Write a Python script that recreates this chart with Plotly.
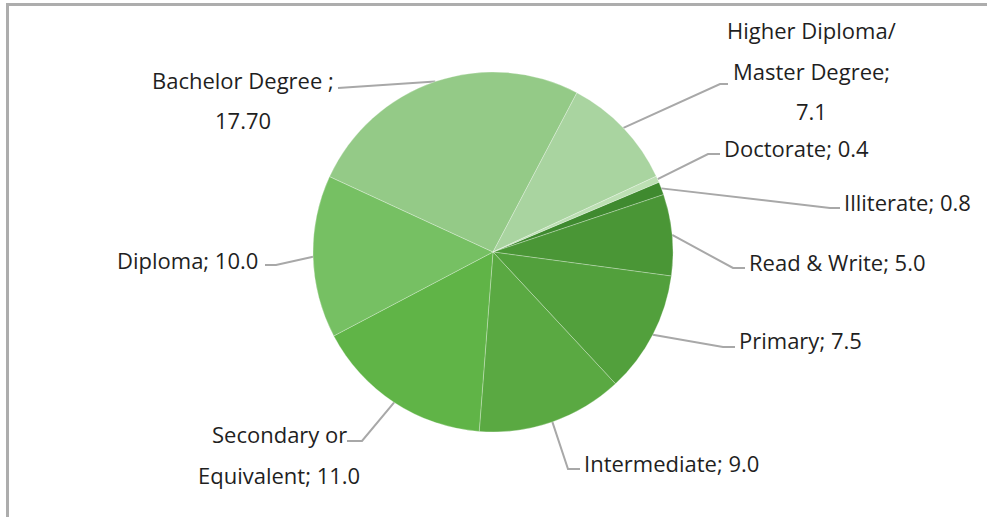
import math
import plotly.graph_objects as go

# Education level shares (%)
categories = ["Illiterate", "Read & Write", "Primary", "Intermediate",
              "Secondary or Equivalent", "Diploma", "Bachelor Degree",
              "Higher Diploma/ Master Degree", "Doctorate"]
values = [0.8, 5.0, 7.5, 9.0, 11.0, 10.0, 17.70, 7.1, 0.4]
value_text = ["0.8", "5.0", "7.5", "9.0", "11.0", "10.0", "17.70", "7.1", "0.4"]
colors = ["#3f8a2f", "#4a9636", "#52a03c", "#5aa942", "#60b447",
          "#76c063", "#94ca87", "#a9d4a0", "#bde0b4"]

# Label text, split into the lines that are drawn
label_lines = [
    [f"Illiterate; {value_text[0]}"],
    [f"Read & Write; {value_text[1]}"],
    [f"Primary; {value_text[2]}"],
    [f"Intermediate; {value_text[3]}"],
    ["Secondary or", f"Equivalent; {value_text[4]}"],
    [f"Diploma; {value_text[5]}"],
    ["Bachelor Degree ;", value_text[6]],
    ["Higher Diploma/", "Master Degree;", value_text[7]],
    [f"Doctorate; {value_text[8]}"],
]

# Canvas and pie geometry (pixels)
W, H = 987, 517
CX, CY, R = 493, 252, 180
ROTATION = 67.2

# Label placement: text x, first-line y, line gap, anchor, leader elbow, leader end
label_layout = [
    dict(x=842, y=202, gap=40, anchor="left",   elbow=(830, 208), end=(840, 208)),
    dict(x=747, y=262, gap=40, anchor="left",   elbow=(733, 268), end=(745, 268)),
    dict(x=737, y=340, gap=40, anchor="left",   elbow=(723, 347), end=(735, 347)),
    dict(x=582, y=463, gap=40, anchor="left",   elbow=(568, 469), end=(580, 469)),
    dict(x=279, y=434, gap=41, anchor="center", elbow=(362, 441), end=(347, 441)),
    dict(x=260, y=260, gap=40, anchor="right",  elbow=(276, 265), end=(265, 265)),
    dict(x=243, y=80,  gap=40, anchor="center", elbow=(338, 88),  end=(338, 88)),
    dict(x=811, y=30,  gap=40.5, anchor="center", elbow=(720, 84), end=(728, 84)),
    dict(x=722, y=148, gap=40, anchor="left",   elbow=(708, 154), end=(720, 154)),
]

FONT = dict(family="Open Sans, Noto Sans, sans-serif", size=22, color="#1f1f1f")
LEADER_COLOR = "#a8a8a8"

fig = go.Figure()

fig.add_trace(go.Pie(
    labels=categories,
    values=values,
    sort=False,
    direction="clockwise",
    rotation=ROTATION,
    marker=dict(colors=colors, line=dict(color="rgba(255,255,255,0.35)", width=0.8)),
    textinfo="none",
    hoverinfo="label+value",
    showlegend=False,
    domain=dict(x=[(CX - R) / W, (CX + R) / W],
                y=[1 - (CY + R) / H, 1 - (CY - R) / H]),
))

total = sum(values)
cum = 0.0
annotations = []
for v, lines, lay in zip(values, label_lines, label_layout):
    ang = math.radians(ROTATION + 360.0 * (cum + v / 2.0) / total)
    cum += v
    sx = CX + R * math.sin(ang)
    sy = CY - R * math.cos(ang)
    ex, ey = lay["elbow"]
    tx, ty = lay["end"]
    fig.add_trace(go.Scatter(
        x=[sx, ex, tx], y=[sy, ey, ty],
        mode="lines",
        line=dict(color=LEADER_COLOR, width=2),
        hoverinfo="skip",
        showlegend=False,
    ))
    for i, line in enumerate(lines):
        annotations.append(dict(
            x=lay["x"], y=lay["y"] + i * lay["gap"],
            xref="x", yref="y",
            text=line, showarrow=False,
            xanchor=lay["anchor"], yanchor="middle",
            font=FONT,
        ))

# Chart frame (top and left edges)
shapes = [
    dict(type="line", xref="x", yref="y", x0=6, x1=W, y0=4.5, y1=4.5,
         line=dict(color="#adadad", width=3)),
    dict(type="line", xref="x", yref="y", x0=7.5, x1=7.5, y0=3, y1=H,
         line=dict(color="#adadad", width=3)),
]

fig.update_layout(
    width=W, height=H,
    margin=dict(l=0, r=0, t=0, b=0),
    paper_bgcolor="white",
    plot_bgcolor="rgba(0,0,0,0)",
    xaxis=dict(range=[0, W], visible=False, fixedrange=True, domain=[0, 1]),
    yaxis=dict(range=[H, 0], visible=False, fixedrange=True, domain=[0, 1]),
    annotations=annotations,
    shapes=shapes,
)

fig.write_html("out.html")
